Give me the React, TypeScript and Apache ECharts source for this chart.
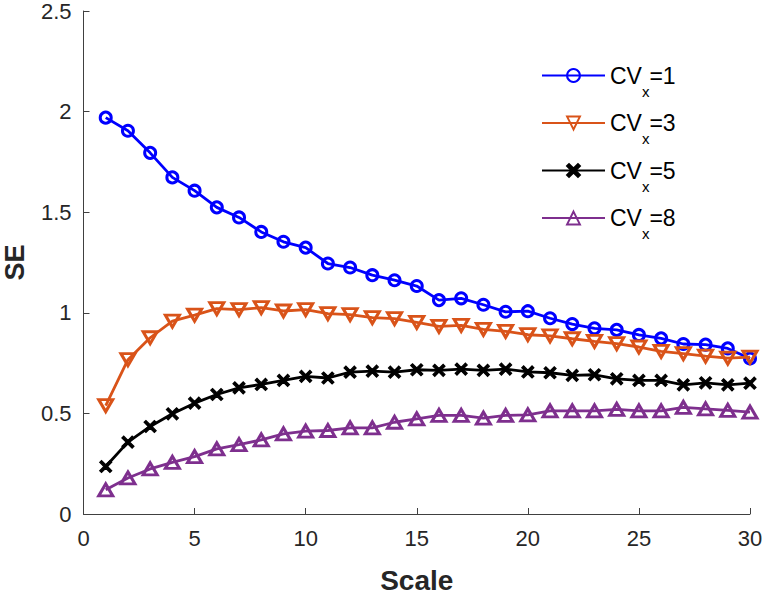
import React, { useEffect, useRef } from 'react';
import * as echarts from 'echarts';

const scales = [1, 2, 3, 4, 5, 6, 7, 8, 9, 10, 11, 12, 13, 14, 15, 16, 17, 18, 19, 20, 21, 22, 23, 24, 25, 26, 27, 28, 29, 30];
const cv1 = [1.97, 1.905, 1.795, 1.673, 1.607, 1.524, 1.474, 1.402, 1.353, 1.324, 1.245, 1.225, 1.187, 1.162, 1.133, 1.063, 1.072, 1.04, 1.005, 1.008, 0.973, 0.944, 0.923, 0.915, 0.89, 0.873, 0.845, 0.842, 0.823, 0.773];
const cv3 = [0.539, 0.767, 0.876, 0.959, 0.988, 1.021, 1.016, 1.026, 1.009, 1.016, 0.996, 0.991, 0.976, 0.971, 0.952, 0.933, 0.938, 0.918, 0.908, 0.891, 0.885, 0.871, 0.858, 0.847, 0.83, 0.808, 0.797, 0.785, 0.775, 0.78];
const cv5 = [0.236, 0.357, 0.435, 0.498, 0.551, 0.594, 0.627, 0.644, 0.664, 0.684, 0.676, 0.705, 0.71, 0.705, 0.717, 0.714, 0.72, 0.714, 0.72, 0.706, 0.702, 0.689, 0.692, 0.672, 0.664, 0.664, 0.642, 0.652, 0.642, 0.65];
const cv8 = [0.12, 0.179, 0.224, 0.257, 0.285, 0.324, 0.345, 0.368, 0.398, 0.412, 0.415, 0.428, 0.428, 0.456, 0.473, 0.49, 0.49, 0.477, 0.49, 0.493, 0.513, 0.513, 0.513, 0.52, 0.513, 0.513, 0.53, 0.522, 0.515, 0.506];

const cvLabels = ['1', '3', '5', '8'];
const seriesNames = ['CVx=1', 'CVx=3', 'CVx=5', 'CVx=8'];
const colors = ['#0000FF', '#D95319', '#000000', '#7E2F8E'];

const xTicks = { min: 0, max: 30, interval: 5 };
const yTicks = { min: 0, max: 2.5, interval: 0.5 };

const FONT = 'Liberation Sans, Arial, Helvetica, sans-serif';
const AXIS_COLOR = '#404040';
const TEXT_COLOR = '#262626';

const crossPath = 'path://M0,1.5L1.5,0L5,3.5L8.5,0L10,1.5L6.5,5L10,8.5L8.5,10L5,6.5L1.5,10L0,8.5L3.5,5Z';

export default function App() {
  const ref = useRef<HTMLDivElement>(null);

  useEffect(() => {
    if (!ref.current) return;
    const chart = echarts.init(ref.current, undefined, { renderer: 'svg' });
    const values = [cv1, cv3, cv5, cv8];
    const symbols: any[] = ['circle', 'triangle', crossPath, 'triangle'];
    const sizes: any[] = [11, [14, 12], 12, [14, 12]];
    const rotates = [0, 180, 0, 0];
    const hollow = [true, true, false, true];

    const series = values.map((vals, k) => ({
      name: seriesNames[k],
      type: 'line',
      data: scales.map((s, i) => [s, vals[i]]),
      symbol: symbols[k],
      symbolSize: sizes[k],
      symbolRotate: rotates[k],
      showAllSymbol: true,
      lineStyle: { color: colors[k], width: 2.8 },
      itemStyle: hollow[k]
        ? { color: 'rgba(255,255,255,0)', borderColor: colors[k], borderWidth: 3 }
        : { color: colors[k], borderColor: colors[k], borderWidth: 1.2 },
      emphasis: { disabled: true },
      z: 2 + k,
    }));

    chart.setOption({
      animation: false,
      backgroundColor: '#ffffff',
      grid: { left: 83.5, right: 15, top: 11, bottom: 80, containLabel: false, outerBoundsMode: 'none' },
      legend: {
        orient: 'vertical',
        left: 536,
        top: 59,
        itemWidth: 63,
        itemHeight: 16,
        itemGap: 13,
        selectedMode: false,
        data: seriesNames,
        formatter: (name: string) => {
          const k = seriesNames.indexOf(name);
          return `{a|CV}{b|x}{a|=${cvLabels[k]}}`;
        },
        textStyle: {
          color: '#000',
          fontFamily: FONT,
          rich: {
            a: { fontSize: 23, fontFamily: FONT, color: '#000', lineHeight: 46, verticalAlign: 'middle' },
            b: { fontSize: 15, fontFamily: FONT, color: '#000', lineHeight: 16, verticalAlign: 'bottom' },
          },
        },
      },
      xAxis: {
        type: 'value',
        min: xTicks.min,
        max: xTicks.max,
        interval: xTicks.interval,
        name: 'Scale',
        nameLocation: 'middle',
        nameGap: 52,
        nameTextStyle: { fontSize: 28, fontWeight: 'bold', fontFamily: FONT, color: TEXT_COLOR },
        axisLine: { show: true, lineStyle: { color: AXIS_COLOR, width: 1 } },
        axisTick: { show: true, inside: true, length: 6, lineStyle: { color: AXIS_COLOR, width: 1 } },
        axisLabel: { fontSize: 22, fontFamily: FONT, color: TEXT_COLOR, margin: 13 },
        splitLine: { show: false },
      },
      yAxis: {
        type: 'value',
        min: yTicks.min,
        max: yTicks.max,
        interval: yTicks.interval,
        name: 'SE',
        nameLocation: 'middle',
        nameGap: 55,
        nameTextStyle: { fontSize: 27, fontWeight: 'bold', fontFamily: FONT, color: TEXT_COLOR },
        axisLine: { show: true, lineStyle: { color: AXIS_COLOR, width: 1 } },
        axisTick: { show: true, inside: true, length: 6, lineStyle: { color: AXIS_COLOR, width: 1 } },
        axisLabel: { fontSize: 22, fontFamily: FONT, color: TEXT_COLOR, margin: 12 },
        splitLine: { show: false },
      },
      series,
    });

    return () => {
      chart.dispose();
    };
  }, []);

  return (
    <div
      ref={ref}
      style={{ position: 'fixed', left: 0, top: 0, width: 765, height: 594, background: '#fff' }}
    />
  );
}
